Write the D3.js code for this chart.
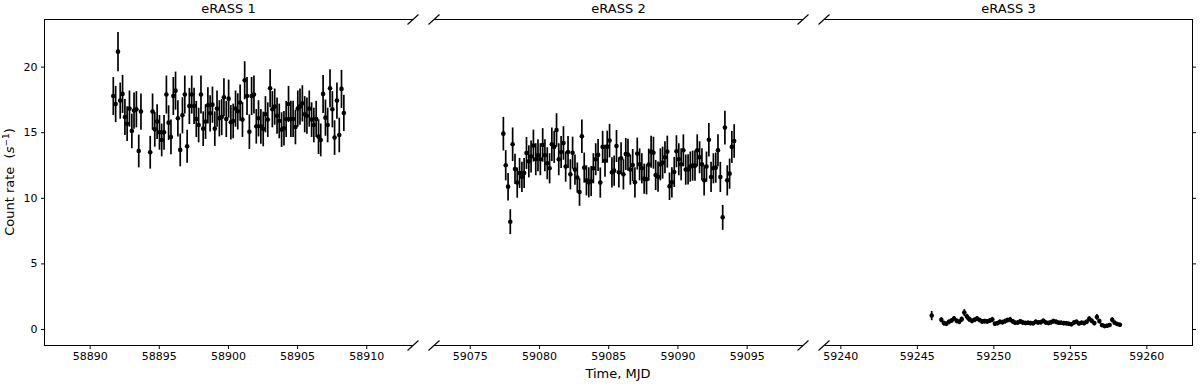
<!DOCTYPE html>
<html>
<head>
<meta charset="utf-8">
<script src="https://cdn.jsdelivr.net/npm/d3@7/dist/d3.min.js"></script>
<style>
  body { margin: 0; background: #fff; }
  svg text { font-family: "DejaVu Sans", sans-serif; fill: #000; }
</style>
</head>
<body>
<script>
// ---------------- DATA ----------------
const titles = ["eRASS 1", "eRASS 2", "eRASS 3"];
const xTicks1 = [58890, 58895, 58900, 58905, 58910];
const xTicks2 = [59075, 59080, 59085, 59090, 59095];
const xTicks3 = [59240, 59245, 59250, 59255, 59260];
const yTicks = [0, 5, 10, 15, 20];
const xLim1 = [58886.70, 58913.38];
const xLim2 = [59072.42, 59099.07];
const xLim3 = [59238.93, 59263.05];
const yLim = [-1.22, 23.63];

// eRASS 1 (MJD, count rate, 1-sigma error)
const t1 = [58891.71, 58891.88, 58892.05, 58892.21, 58892.38, 58892.55, 58892.71, 58892.88, 58893.05, 58893.21, 58893.38, 58893.55, 58893.71,
  58894.38, 58894.55, 58894.71, 58894.88, 58895.05, 58895.21, 58895.38, 58895.55, 58895.71, 58895.88,
  58896.05, 58896.21, 58896.38, 58896.55, 58896.71, 58896.88, 58897.05, 58897.21, 58897.38, 58897.55,
  58897.71, 58897.88, 58898.05, 58898.21, 58898.38, 58898.55, 58898.71, 58898.88, 58899.05, 58899.21,
  58899.38, 58899.55, 58899.71, 58899.88, 58900.05, 58900.21, 58900.38, 58900.55, 58900.71, 58900.88,
  58901.05, 58901.21, 58901.38, 58901.55, 58901.71, 58901.88, 58902.05, 58902.21, 58902.38, 58902.55,
  58902.71, 58902.88, 58903.05, 58903.21, 58903.38, 58903.55, 58903.71, 58903.88, 58904.05, 58904.21,
  58904.38, 58904.55, 58904.71, 58904.88, 58905.05, 58905.21, 58905.38, 58905.55, 58905.71, 58905.88,
  58906.05, 58906.21, 58906.38, 58906.55, 58906.71, 58906.88, 58907.05, 58907.21, 58907.38, 58907.55,
  58907.71, 58907.88, 58908.05, 58908.21, 58908.38];
const v1 = [17.76, 17.15, 21.14, 17.41, 17.92, 16.16, 15.65, 16.80, 15.10, 16.65, 16.75, 13.57, 16.57,
  13.47, 16.57, 15.22, 15.81, 14.99, 14.41, 14.99, 17.87, 15.73, 14.64,
  17.76, 18.17, 16.06, 13.65, 16.29, 17.87, 13.93, 17.00, 17.87, 17.00,
  16.01, 15.55, 17.87, 15.27, 15.81, 17.05, 16.44, 17.10, 15.27, 16.80,
  16.06, 16.16, 17.66, 16.01, 17.56, 15.76, 15.86, 16.80, 16.59, 17.26,
  15.96, 18.96, 17.76, 15.04, 17.76, 17.87, 15.45, 16.06, 15.45, 15.25,
  16.37, 15.96, 18.35, 16.75, 16.95, 16.26, 15.86, 15.20, 15.30, 16.01,
  17.15, 16.01, 16.01, 15.40, 16.80, 16.95, 17.20, 16.37, 16.26, 16.80,
  15.96, 15.55, 16.01, 14.66, 14.41, 17.92, 16.11, 15.55, 18.35, 16.75,
  14.59, 17.41, 14.79, 18.30, 16.47];
const e1 = [1.45, 1.38, 1.50, 1.38, 1.45, 1.38, 1.32, 1.38, 1.32, 1.38, 1.38, 1.25, 1.38,
  1.25, 1.38, 1.32, 1.32, 1.32, 1.25, 1.32, 1.45, 1.32, 1.32,
  1.45, 1.45, 1.38, 1.25, 1.38, 1.45, 1.25, 1.38, 1.45, 1.38,
  1.38, 1.32, 1.45, 1.32, 1.32, 1.38, 1.38, 1.38, 1.32, 1.38,
  1.38, 1.38, 1.45, 1.38, 1.45, 1.32, 1.32, 1.38, 1.38, 1.38,
  1.32, 1.45, 1.45, 1.32, 1.45, 1.45, 1.32, 1.38, 1.32, 1.32,
  1.38, 1.32, 1.45, 1.38, 1.38, 1.38, 1.32, 1.32, 1.32, 1.38,
  1.38, 1.38, 1.38, 1.32, 1.38, 1.38, 1.38, 1.38, 1.38, 1.38,
  1.32, 1.32, 1.38, 1.32, 1.25, 1.45, 1.38, 1.32, 1.45, 1.38,
  1.32, 1.38, 1.32, 1.45, 1.38];

// eRASS 2
const t2 = [59077.43, 59077.60, 59077.77, 59077.93, 59078.10, 59078.27, 59078.43, 59078.60, 59078.77, 59078.93,
  59079.10, 59079.27, 59079.43, 59079.60, 59079.77, 59079.93, 59080.10, 59080.27, 59080.43, 59080.60,
  59080.77, 59080.93, 59081.10, 59081.27, 59081.43, 59081.60, 59081.77, 59081.93, 59082.10, 59082.27,
  59082.43, 59082.60, 59082.77, 59082.93, 59083.10, 59083.27, 59083.43, 59083.60, 59083.77, 59083.93,
  59084.10, 59084.27, 59084.43, 59084.60, 59084.77, 59084.93, 59085.10, 59085.27, 59085.43, 59085.60,
  59085.77, 59085.93, 59086.10, 59086.27, 59086.43, 59086.60, 59086.77, 59086.93, 59087.10, 59087.27,
  59087.43, 59087.60, 59087.77, 59087.93, 59088.10, 59088.27, 59088.43, 59088.60, 59088.77, 59088.93,
  59089.10, 59089.27, 59089.43, 59089.60, 59089.77, 59089.93, 59090.10, 59090.27, 59090.43, 59090.60,
  59090.77, 59090.93, 59091.10, 59091.27, 59091.43, 59091.60, 59091.77, 59091.93, 59092.10, 59092.27,
  59092.43, 59092.60, 59092.77, 59092.93, 59093.10, 59093.27, 59093.43, 59093.60, 59093.77, 59093.93, 59094.10];
const v2 = [14.89, 12.48, 10.85, 8.18, 14.08, 12.20, 11.16, 11.89, 11.59, 11.89,
  13.42, 12.78, 13.14, 13.98, 12.94, 13.24, 12.94, 14.03, 13.24, 12.63,
  12.25, 14.08, 13.88, 15.17, 12.94, 13.49, 14.18, 12.38, 13.49, 11.79,
  13.44, 12.15, 11.54, 10.44, 14.69, 12.30, 11.33, 11.18, 11.28, 12.25,
  12.94, 13.27, 11.16, 13.88, 12.83, 13.90, 14.36, 11.94, 12.07, 13.95,
  11.94, 13.01, 11.79, 13.34, 13.29, 12.15, 12.50, 11.18, 13.37, 12.55,
  12.25, 11.46, 11.41, 12.53, 13.52, 13.44, 11.74, 11.61, 12.55, 12.68,
  13.09, 13.52, 10.88, 11.18, 11.97, 13.55, 12.94, 12.55, 13.62, 12.15,
  12.17, 12.38, 12.45, 12.45, 13.62, 13.09, 12.55, 11.33, 12.38, 14.43,
  11.59, 12.25, 12.30, 13.62, 11.59, 8.51, 15.35, 11.33, 11.84, 13.88, 14.33];
const e2 = [1.28, 1.15, 1.05, 0.95, 1.28, 1.15, 1.15, 1.15, 1.15, 1.15,
  1.22, 1.22, 1.22, 1.22, 1.22, 1.22, 1.22, 1.28, 1.22, 1.22,
  1.15, 1.28, 1.22, 1.28, 1.22, 1.22, 1.28, 1.15, 1.22, 1.15,
  1.22, 1.15, 1.15, 1.05, 1.28, 1.15, 1.15, 1.15, 1.15, 1.15,
  1.22, 1.22, 1.15, 1.22, 1.22, 1.22, 1.28, 1.15, 1.15, 1.22,
  1.15, 1.22, 1.15, 1.22, 1.22, 1.15, 1.22, 1.15, 1.22, 1.22,
  1.15, 1.15, 1.15, 1.22, 1.22, 1.22, 1.15, 1.15, 1.22, 1.22,
  1.22, 1.22, 1.05, 1.15, 1.15, 1.22, 1.22, 1.22, 1.22, 1.15,
  1.15, 1.15, 1.15, 1.15, 1.22, 1.22, 1.22, 1.15, 1.15, 1.28,
  1.15, 1.15, 1.15, 1.22, 1.15, 0.95, 1.28, 1.15, 1.15, 1.22, 1.28];

// eRASS 3
const t3 = [59245.97,
  59246.60, 59246.77, 59246.93, 59247.10, 59247.27, 59247.43, 59247.60, 59247.77, 59247.93, 59248.10,
  59248.27, 59248.43, 59248.60, 59248.77, 59248.93, 59249.10, 59249.27, 59249.43, 59249.60, 59249.77,
  59249.93, 59250.10, 59250.27, 59250.43, 59250.60, 59250.77, 59250.93, 59251.10, 59251.27, 59251.43,
  59251.60, 59251.77, 59251.93, 59252.10, 59252.27, 59252.43, 59252.60, 59252.77, 59252.93, 59253.10,
  59253.27, 59253.43, 59253.60, 59253.77, 59253.93, 59254.10, 59254.27, 59254.43, 59254.60, 59254.77,
  59254.93, 59255.10, 59255.27, 59255.43, 59255.60, 59255.77, 59255.93, 59256.10, 59256.27, 59256.43,
  59256.60, 59256.77, 59256.93, 59257.10, 59257.27, 59257.43, 59257.60, 59257.77, 59257.93, 59258.10, 59258.27];
const v3 = [1.02,
  0.70, 0.45, 0.40, 0.55, 0.65, 0.80, 0.62, 0.55, 0.75, 1.25,
  0.95, 0.75, 0.62, 0.70, 0.80, 0.68, 0.58, 0.60, 0.58, 0.65,
  0.72, 0.40, 0.45, 0.55, 0.52, 0.60, 0.68, 0.72, 0.58, 0.48,
  0.50, 0.58, 0.50, 0.46, 0.48, 0.45, 0.44, 0.55, 0.50, 0.52,
  0.62, 0.50, 0.46, 0.52, 0.60, 0.55, 0.48, 0.48, 0.45, 0.44,
  0.40, 0.36, 0.50, 0.55, 0.42, 0.48, 0.45, 0.55, 0.78, 0.62,
  0.45, 0.92, 0.60, 0.30, 0.22, 0.25, 0.30, 0.70, 0.48, 0.38, 0.32];
const e3 = [0.35,
  0.20, 0.18, 0.18, 0.18, 0.18, 0.20, 0.18, 0.18, 0.20, 0.26,
  0.22, 0.20, 0.18, 0.18, 0.20, 0.18, 0.18, 0.18, 0.18, 0.18,
  0.20, 0.17, 0.17, 0.18, 0.18, 0.18, 0.18, 0.20, 0.18, 0.17,
  0.17, 0.18, 0.17, 0.17, 0.17, 0.17, 0.17, 0.18, 0.17, 0.17,
  0.18, 0.17, 0.17, 0.17, 0.18, 0.18, 0.17, 0.17, 0.17, 0.17,
  0.16, 0.16, 0.17, 0.18, 0.16, 0.17, 0.17, 0.18, 0.20, 0.18,
  0.17, 0.22, 0.18, 0.16, 0.15, 0.15, 0.16, 0.20, 0.17, 0.16, 0.16];

// ---------------- LAYOUT ----------------
const W = 1200, H = 384;
const plotTop = 19, plotBot = 345;
const panels = [
  {t: t1, v: v1, e: e1, title: titles[0], x0: 44, x1: 413, lim: xLim1, ticks: xTicks1, leftSpine: true, rightSpine: false, breakL: false, breakR: true},
  {t: t2, v: v2, e: e2, title: titles[1], x0: 434, x1: 803, lim: xLim2, ticks: xTicks2, leftSpine: false, rightSpine: false, breakL: true, breakR: true},
  {t: t3, v: v3, e: e3, title: titles[2], x0: 824, x1: 1193, lim: xLim3, ticks: xTicks3, leftSpine: false, rightSpine: true, breakL: true, breakR: false}
];

const svg = d3.select("body").append("svg").attr("width", W).attr("height", H);
const y = d3.scaleLinear().domain(yLim).range([plotBot, plotTop]);

panels.forEach(p => {
  const x = d3.scaleLinear().domain(p.lim).range([p.x0, p.x1]);
  const g = svg.append("g");
  const data = p.t.map((t, i) => ({t, v: p.v[i], e: p.e[i]}));

  // error bars
  g.append("g").selectAll("line").data(data).join("line")
    .attr("x1", d => x(d.t)).attr("x2", d => x(d.t))
    .attr("y1", d => y(d.v - d.e)).attr("y2", d => y(d.v + d.e))
    .attr("stroke", "#000").attr("stroke-width", 1.7);
  // markers
  g.append("g").selectAll("circle").data(data).join("circle")
    .attr("cx", d => x(d.t)).attr("cy", d => y(d.v)).attr("r", 2.3)
    .attr("fill", "#000");

  // spines
  const line = (a, b, c, d) => g.append("line").attr("x1", a).attr("y1", b).attr("x2", c).attr("y2", d)
    .attr("stroke", "#000").attr("stroke-width", 1);
  line(p.x0, plotTop + 0.5, p.x1, plotTop + 0.5);
  line(p.x0, plotBot + 0.5, p.x1, plotBot + 0.5);
  if (p.leftSpine) line(p.x0 + 0.5, plotTop, p.x0 + 0.5, plotBot + 1);
  if (p.rightSpine) line(p.x1 - 0.5, plotTop, p.x1 - 0.5, plotBot + 1);

  // x axis
  const xAxis = d3.axisBottom(x).tickValues(p.ticks).tickFormat(d3.format("d"))
    .tickSize(3.5).tickPadding(3.5);
  const ax = g.append("g").attr("transform", `translate(0,${plotBot + 0.5})`).call(xAxis);
  ax.select(".domain").remove();
  ax.selectAll("text").attr("font-size", 11).attr("font-family", "DejaVu Sans").attr("fill", "#000");
  ax.selectAll("line").attr("stroke", "#000");

  // y axis
  if (p.leftSpine) {
    const yAxis = d3.axisLeft(y).tickValues(yTicks).tickFormat(d3.format("d")).tickSize(3.5).tickPadding(3.5);
    const ay = g.append("g").attr("transform", `translate(${p.x0 + 0.5},0)`).call(yAxis);
    ay.select(".domain").remove();
    ay.selectAll("text").attr("font-size", 11).attr("font-family", "DejaVu Sans").attr("fill", "#000");
    ay.selectAll("line").attr("stroke", "#000");
  }
  if (p.rightSpine) {
    const yAxis = d3.axisRight(y).tickValues(yTicks).tickFormat("").tickSize(3.5);
    const ay = g.append("g").attr("transform", `translate(${p.x1 - 0.5},0)`).call(yAxis);
    ay.select(".domain").remove();
    ay.selectAll("line").attr("stroke", "#000");
  }

  // break marks
  const dx = 5.5, dy = 5;
  const brk = xx => {
    [plotTop + 0.5, plotBot + 0.5].forEach(yy => {
      g.append("line").attr("x1", xx - dx).attr("y1", yy + dy).attr("x2", xx + dx).attr("y2", yy - dy)
        .attr("stroke", "#000").attr("stroke-width", 1.1);
    });
  };
  if (p.breakL) brk(p.x0);
  if (p.breakR) brk(p.x1);

  // title
  g.append("text").attr("x", (p.x0 + p.x1) / 2).attr("y", 13)
    .attr("text-anchor", "middle").attr("font-size", 13).text(p.title);
});

// axis labels
svg.append("text").attr("x", 618).attr("y", 378).attr("text-anchor", "middle")
  .attr("font-size", 13).text("Time, MJD");

const yl = svg.append("text").attr("transform", "translate(14,182) rotate(-90)")
  .attr("text-anchor", "middle").attr("font-size", 13).style("white-space", "pre");
yl.append("tspan").text("Count rate  (");
yl.append("tspan").attr("font-style", "italic").text("s");
yl.append("tspan").attr("font-size", 9).attr("dy", -5).text("\u22121");
yl.append("tspan").attr("dy", 5).text(")");
</script>
</body>
</html>
